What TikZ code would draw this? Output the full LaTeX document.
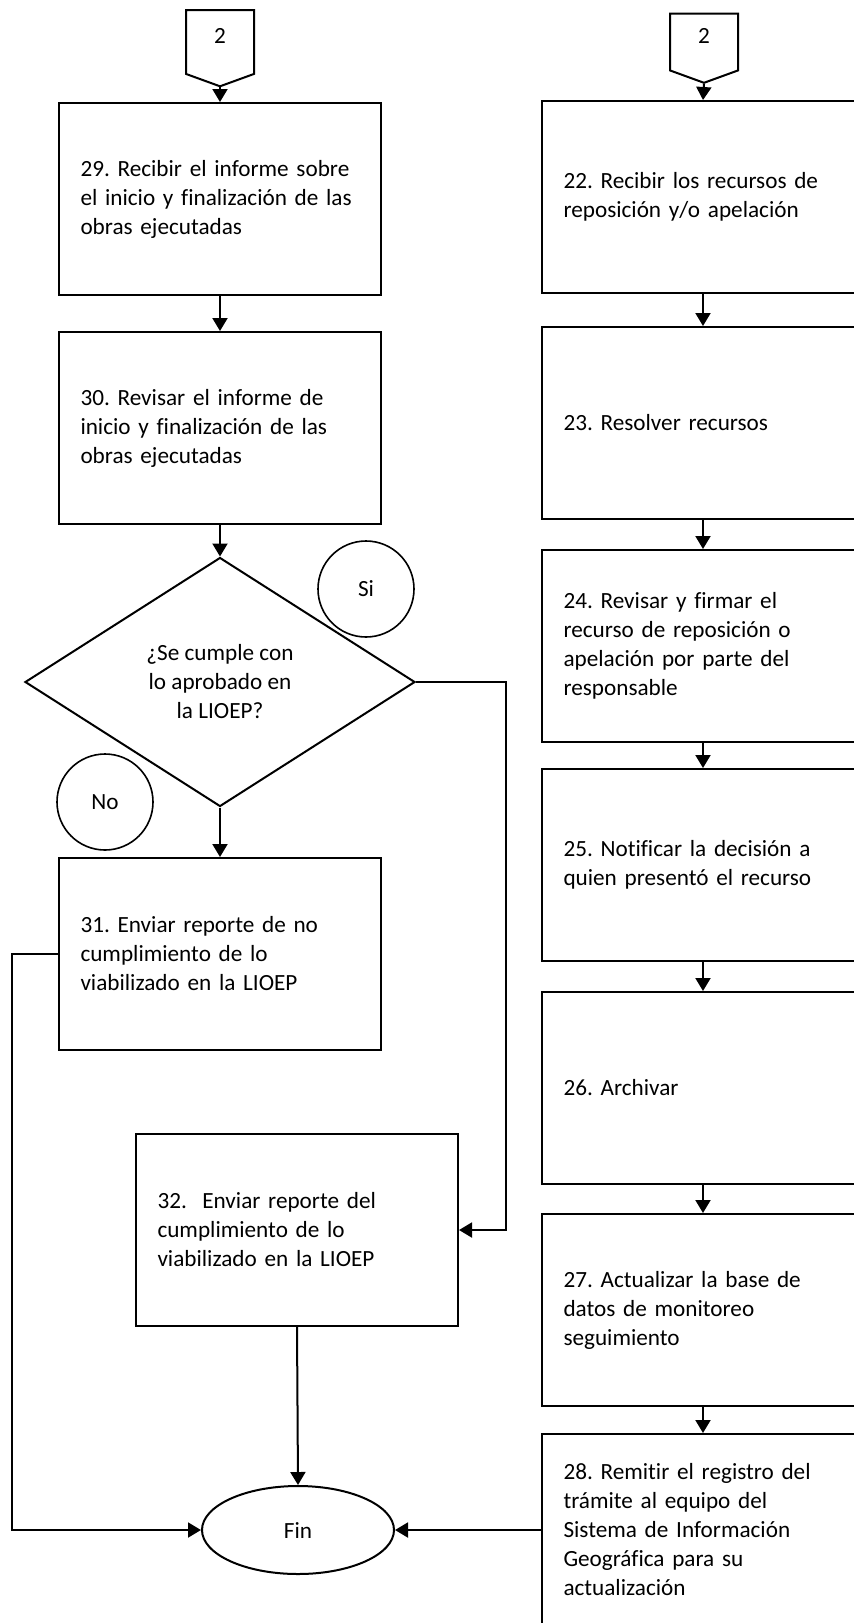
\documentclass[tikz,border=0pt]{standalone}
\usepackage{fontspec}
\setmainfont{Carlito}[Ligatures=NoCommon]
\usetikzlibrary{shapes.geometric,shapes.symbols,arrows.meta}

\begin{document}
\begin{tikzpicture}[x=1pt,y=-1pt,line width=2pt,>={Triangle[length=13pt,width=15pt]},
  font=\fontsize{23.2}{29}\selectfont\frenchspacing,
  proc/.style={draw, rectangle, minimum width=322pt, minimum height=192pt, text width=279pt, inner xsep=21.5pt, align=left},
  etiq/.style={draw, circle, minimum size=96pt, inner sep=0pt, line width=1.6pt},
  conec/.style={draw, signal, signal to=south, signal from=nowhere, signal pointer angle=140, minimum width=68pt, minimum height=66pt, inner sep=0pt, text depth=12pt}]
  \path[use as bounding box, clip] (0,0) rectangle (854,1623);

  \node[conec] (con1) at (220,42) {2};
  \node[proc] (b29) at (220,199) {29. Recibir el informe sobre\\el inicio y finalización de las\\obras ejecutadas};
  \node[proc] (b30) at (220,428) {30. Revisar el informe de\\inicio y finalización de las\\obras ejecutadas};
  \node[draw, diamond, shape aspect=1.57, minimum width=390pt, minimum height=249pt, inner sep=0pt, align=center] (dec) at (220,682) {¿Se cumple con\\lo aprobado en\\la LIOEP?};
  \node[etiq] (si) at (366,589) {Si};
  \node[etiq] (no) at (105,802) {No};
  \node[proc] (b31) at (220,954) {31. Enviar reporte de no\\cumplimiento de lo\\viabilizado en la LIOEP};
  \node[proc] (b32) at (297,1230) {32.~ Enviar reporte del\\cumplimiento de lo\\viabilizado en la LIOEP};
  \node[draw, ellipse, minimum width=192pt, minimum height=88pt, inner sep=0pt] (fin) at (298,1530) {Fin};

  \node[conec, minimum height=59pt] (con2) at (704,42) {2};
  \node[proc] (b22) at (703,197) {22. Recibir los recursos de\\reposición y/o apelación};
  \node[proc] (b23) at (703,423) {23. Resolver recursos};
  \node[proc] (b24) at (703,646) {24. Revisar y firmar el\\recurso de reposición o\\apelación por parte del\\responsable};
  \node[proc] (b25) at (703,865) {25. Notificar la decisión a\\quien presentó el recurso};
  \node[proc] (b26) at (703,1088) {26. Archivar};
  \node[proc] (b27) at (703,1310) {27. Actualizar la base de\\datos de monitoreo\\seguimiento};
  \node[proc] (b28) at (703,1530) {28. Remitir el registro del\\trámite al equipo del\\Sistema de Información\\Geográfica para su\\actualización};

  \draw[->] (con1.south) -- (b29.north);
  \draw[->] (b29.south) -- (b30.north);
  \draw[->] (b30.south) -- (dec.north);
  \draw[->] (dec.south) -- (b31.north);
  \draw[->] (dec.east) -- ++(90,0) |- (b32.east);
  \draw[->] (b31.west) -- ++(-46,0) |- (fin.west);
  \draw[->] (b32.south) -- (fin.north);

  \draw[->] (con2.south) -- (b22.north);
  \draw[->] (b22.south) -- (b23.north);
  \draw[->] (b23.south) -- (b24.north);
  \draw[->] (b24.south) -- (b25.north);
  \draw[->] (b25.south) -- (b26.north);
  \draw[->] (b26.south) -- (b27.north);
  \draw[->] (b27.south) -- (b28.north);
  \draw[->] (b28.west) -- (fin.east);
\end{tikzpicture}
\end{document}
